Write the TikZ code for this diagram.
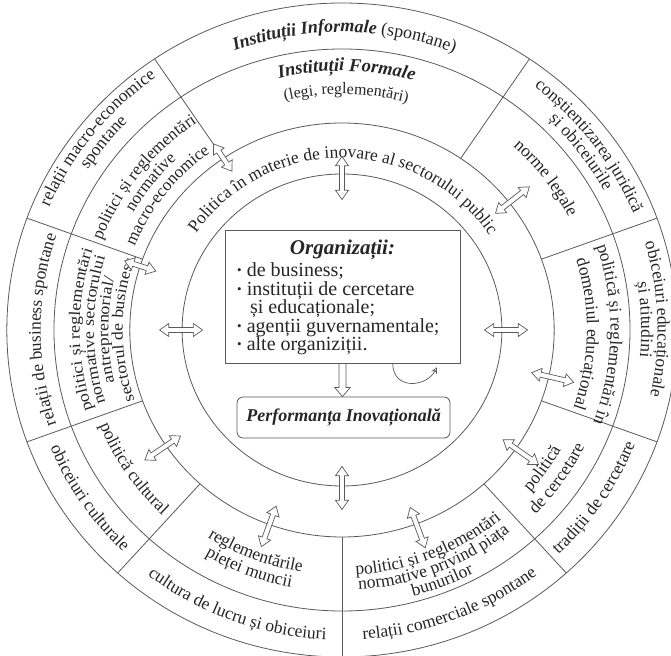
\documentclass[tikz,border=0pt]{standalone}
\usepackage{fontspec}
\setmainfont{Liberation Serif}
\newfontfamily\condrm[FakeStretch=1.12]{Liberation Serif}
\usetikzlibrary{decorations.text,calc,arrows.meta}
\definecolor{linec}{HTML}{5A5A5A}
\definecolor{txtc}{HTML}{262626}
\newcommand\orgbul{\raisebox{2pt}{\fontsize{13}{13}\selectfont\textbullet}\hspace{5pt}}
\newcommand\rf{\fontsize{17.5}{17.5}\selectfont}
\newcommand\rfs{\fontsize{17}{17}\selectfont}
\newcommand\rfc{\condrm\fontsize{16}{16}\selectfont}
\tikzset{
  ln/.style={draw=linec, line width=0.8pt},
  arrline/.style={draw=linec, line width=0.7pt, fill=white},
  boxtxt/.style={font=\fontsize{20}{20}\selectfont, inner sep=0pt, text=txtc, anchor=base west},
  dblarr/.pic={\draw[arrline] (-#1/2,0) -- (-#1/2+9,6.5) -- (-#1/2+9,2.5) -- (#1/2-9,2.5) -- (#1/2-9,6.5) -- (#1/2,0) -- (#1/2-9,-6.5) -- (#1/2-9,-2.5) -- (-#1/2+9,-2.5) -- (-#1/2+9,-6.5) -- cycle;},
  curvetxt/.style={decorate, decoration={text along path, text align=center, text color=txtc, text={#1}}},
}
% clockwise arc text (letters point outwards), centred at angle #1, baseline radius #2
\newcommand\cwtxt[3]{\path[curvetxt={#3}] ({#1+45}:#2) arc[start angle={#1+45}, end angle={#1-45}, radius=#2];}
% counter-clockwise arc text (letters point inwards)
\newcommand\ccwtxt[3]{\path[curvetxt={#3}] ({#1-45}:#2) arc[start angle={#1-45}, end angle={#1+45}, radius=#2];}
\begin{document}
\begin{tikzpicture}[x=1.025pt, y=1pt]
\useasboundingbox[fill=white] (-333.66,-326) rectangle (320.98,330);
% rings
\draw[ln] (0,0) circle[radius=327];
\draw[ln] (0,0) circle[radius=281];
\draw[ln] (0,0) circle[radius=207];
\draw[ln] (0,0) circle[radius=156];
\foreach \a in {20,56,124,160,200,228,270,312,340} \draw[ln] (\a:207) -- (\a:327);

% outer ring (informal institutions)
\cwtxt{89.5}{298}{|\fontsize{18}{18}\selectfont\bfseries\itshape|Instituții Informale |\fontsize{18}{18}\selectfont\mdseries\upshape|(spontane)}
\cwtxt{141.5}{311}{|\rf|relații macro-economice}
\cwtxt{141.5}{295}{|\rf|spontane}
\cwtxt{180}{294}{|\rf|relații de business spontane}
\ccwtxt{214}{308}{|\rf|obiceiuri culturale}
\ccwtxt{249.5}{310}{|\rf|cultura de lucru și obiceiuri}
\ccwtxt{291}{310}{|\rf|relații comerciale spontane}
\ccwtxt{326}{308}{|\rf|tradiții de cercetare}
\cwtxt{2}{308}{|\rf|obiceiuri educaționale}
\cwtxt{2}{292}{|\rf|și atitudini}
\cwtxt{37}{307}{|\rf|conștientizarea juridică}
\cwtxt{37}{291}{|\rf|și obiceiurile}

% middle ring (formal institutions)
\cwtxt{89}{259}{|\fontsize{18.5}{18.5}\selectfont\bfseries\itshape|Instituții Formale}
\cwtxt{89}{236}{|\fontsize{16}{16}\selectfont|(legi, reglementări)}
\cwtxt{142}{251}{|\rfs|politici și reglementări}
\cwtxt{142}{235}{|\rfs|normative}
\cwtxt{142}{219}{|\rfs|macro-economice}
\cwtxt{180}{256}{|\rfc|politici și reglementări}
\cwtxt{180}{242}{|\rfc|normative sectorului}
\cwtxt{180}{228}{|\rfc|antreprenorial/}
\cwtxt{180}{214}{|\rfc|sectorul de business}
\ccwtxt{214}{255}{|\rf|politică cultural}
\ccwtxt{249}{245}{|\rf|reglementările}
\ccwtxt{249}{262}{|\rf|pieței muncii}
\ccwtxt{291.5}{245}{|\rf|politici și reglementări}
\ccwtxt{291.5}{260}{|\rf|normative privind piața}
\ccwtxt{291.5}{275}{|\rf|bunurilor}
\ccwtxt{325}{245}{|\rf|politică}
\ccwtxt{325}{264}{|\rf|de cercetare}
\cwtxt{359}{262}{|\rf|politică și reglementări în}
\cwtxt{359}{239}{|\rf|domeniul educațional}
\cwtxt{37}{248}{|\rf|norme legale}

% inner ring
\path[curvetxt={|\rf|Politica în materie de inovare al sectorului public}] (170:172) arc[start angle=170, end angle=9, radius=172];

% double arrows
\pic[rotate=90] at (90:152) {dblarr=42};
\pic at (180:157) {dblarr=42};
\pic at (0:160) {dblarr=42};
\pic[rotate=90] at (270:158) {dblarr=42};
\pic[rotate=38] at (38:211) {dblarr=42};
\pic[rotate=124] at (124:208) {dblarr=32};
\pic[rotate=162] at (162:207) {dblarr=32};
\pic[rotate=214] at (214:211) {dblarr=42};
\pic[rotate=250] at (250:209) {dblarr=42};
\pic[rotate=290.5] at (290.5:211) {dblarr=42};
\pic[rotate=325] at (325:213) {dblarr=42};
\pic[rotate=347] at (347:211) {dblarr=42};

% centre boxes
\node[draw=linec, line width=0.8pt, fill=white, minimum width=235pt, minimum height=133pt, inner sep=0pt] (org) at (0.5,33.5) {};
\node[font=\fontsize{21}{21}\selectfont\bfseries\itshape, text=txtc, inner sep=0pt] (orgt) at (0.5,80) {Organizații:};
\node[boxtxt] (o1) at (-102.4,53) {\orgbul de business;};
\node[boxtxt] (o2) at (-102.4,34.5) {\orgbul instituții de cercetare};
\node[boxtxt] (o3) at (-89.8,16) {și educaționale;};
\node[boxtxt] (o4) at (-102.4,-2.5) {\orgbul agenții guvernamentale;};
\node[boxtxt] (o5) at (-102.4,-21) {\orgbul alte organiziții.};

\node[draw=linec, line width=0.8pt, fill=white, rounded corners=6pt, minimum width=213pt, minimum height=41pt, inner sep=0pt, font=\fontsize{18}{18}\selectfont\bfseries\itshape, text=txtc] (perf) at (1.5,-87.5) {Performanța Inovațională};

\draw[linec, line width=0.7pt] ($(org.south)+(-3.5,0)$) -- ($(org.south |- perf.north)+(-3.5,9)$) -- ($(org.south |- perf.north)+(-7.5,9)$) -- (org.south |- perf.north) -- ($(org.south |- perf.north)+(7.5,9)$) -- ($(org.south |- perf.north)+(3.5,9)$) -- ($(org.south)+(3.5,0)$);

\draw[linec, line width=0.7pt, -{Stealth[open, length=6pt, width=6pt]}] ($(org.south)+(49,0)$) .. controls +(0,-27) and +(-10,-20) .. ($(org.south)+(92,-4)$);
\end{tikzpicture}
\end{document}
